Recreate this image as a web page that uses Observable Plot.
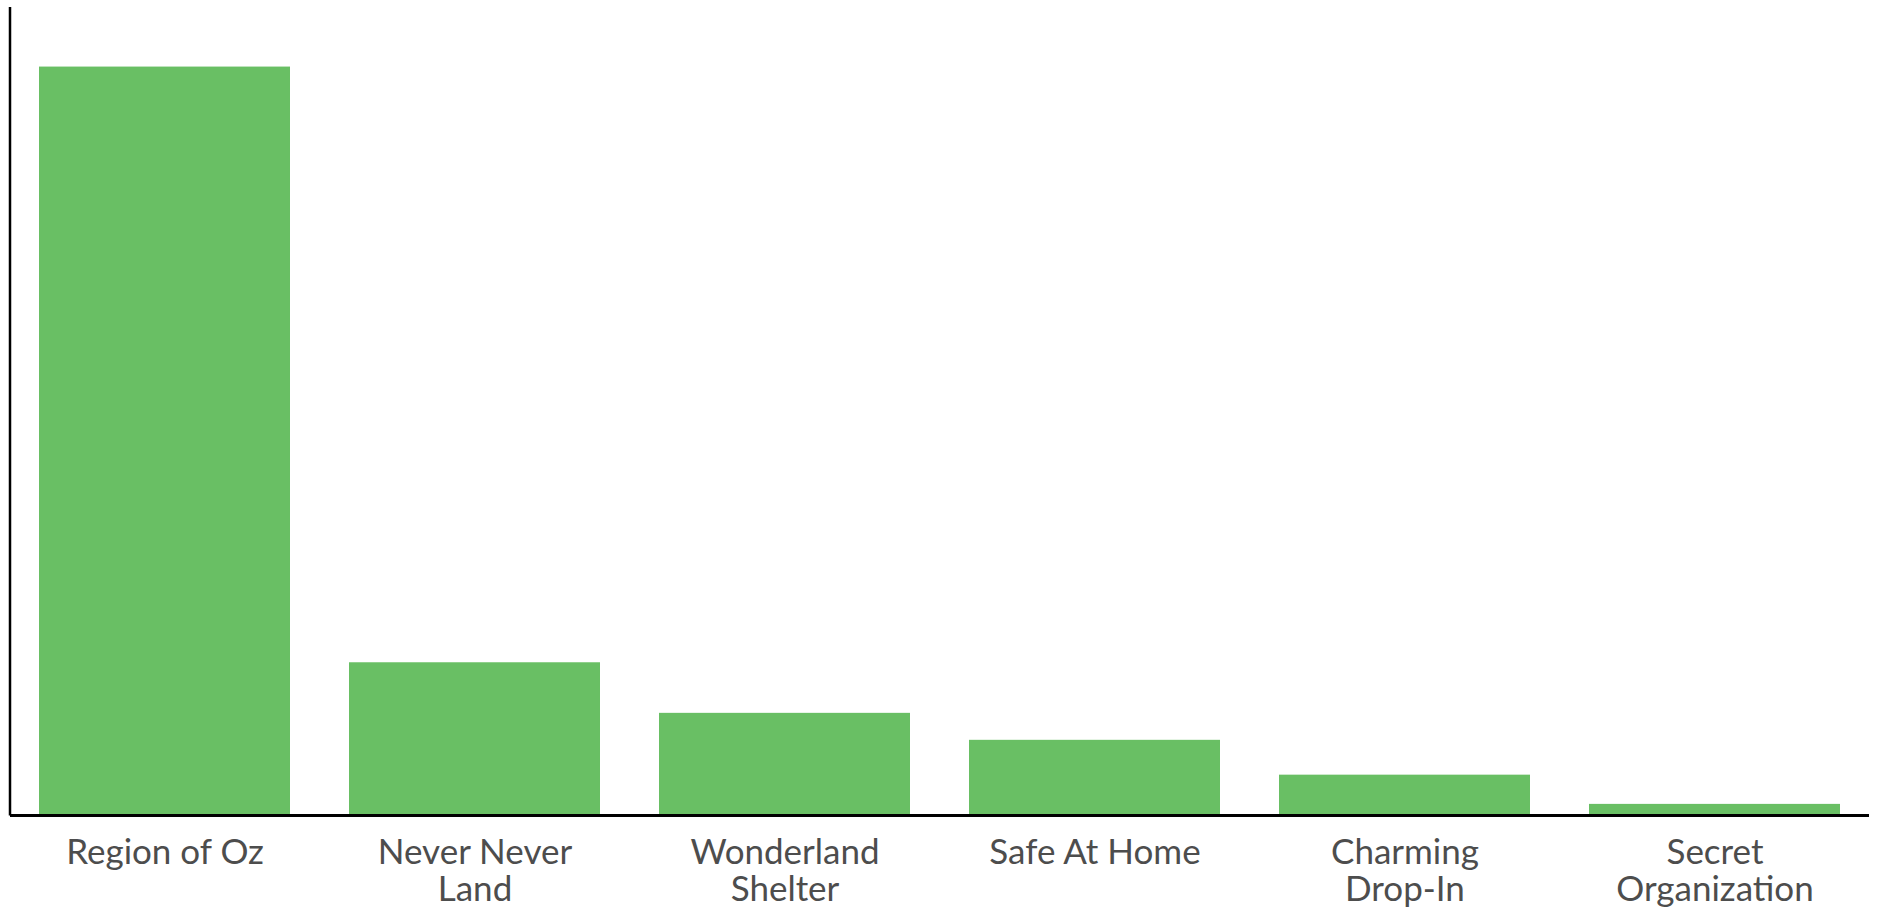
<!DOCTYPE html>
<html>
<head>
<meta charset="utf-8">
<script src="https://cdn.jsdelivr.net/npm/d3@7"></script>
<script src="https://cdn.jsdelivr.net/npm/@observablehq/plot@0.6"></script>
<style>
  html, body { margin: 0; padding: 0; background: #fff; overflow: hidden; }
  #chart svg { display: block; }
</style>
</head>
<body>
<div id="chart"></div>
<script>
// ---- data ----
const categories = ["Region of Oz", "Never Never Land", "Wonderland Shelter", "Safe At Home", "Charming Drop-In", "Secret Organization"];
const tickLabels = ["Region of Oz", "Never Never\nLand", "Wonderland\nShelter", "Safe At Home", "Charming\nDrop-In", "Secret\nOrganization"];
const shares = [66.5, 13.5, 9.0, 6.6, 3.5, 0.9];
const yDomain = [0, 71.8];

const data = categories.map((c, i) => ({category: c, share: shares[i]}));
const labelOf = new Map(categories.map((c, i) => [c, tickLabels[i]]));

// left axis line drawn from the plot's own dimensions
const yAxisLine = (index, scales, values, dims) => {
  const g = d3.create("svg:g");
  g.append("line")
    .attr("x1", dims.marginLeft).attr("x2", dims.marginLeft)
    .attr("y1", dims.marginTop).attr("y2", dims.height - dims.marginBottom + 1.5)
    .attr("stroke", "#000").attr("stroke-width", 2.5);
  return g.node();
};

const chart = Plot.plot({
  width: 1879,
  height: 907,
  marginTop: 7,
  marginLeft: 10,
  marginRight: 10,
  marginBottom: 93,
  style: {fontFamily: "Lato, 'Open Sans', sans-serif", color: "#4d4d4d", background: "#fff"},
  x: {domain: categories, paddingInner: 0.19, paddingOuter: 0.09, axis: null, label: null},
  y: {domain: yDomain, axis: null, label: null},
  marks: [
    Plot.barY(data, {x: "category", y: "share", fill: "#69bf64"}),
    Plot.axisX({
      label: null,
      tickSize: 0,
      tickPadding: 22,
      fontSize: 35,
      lineHeight: 1.086,
      tickFormat: d => labelOf.get(d)
    }),
    Plot.ruleY([0], {stroke: "#000", strokeWidth: 3, dy: 1}),
    yAxisLine
  ]
});
document.getElementById("chart").appendChild(chart);
</script>
</body>
</html>
